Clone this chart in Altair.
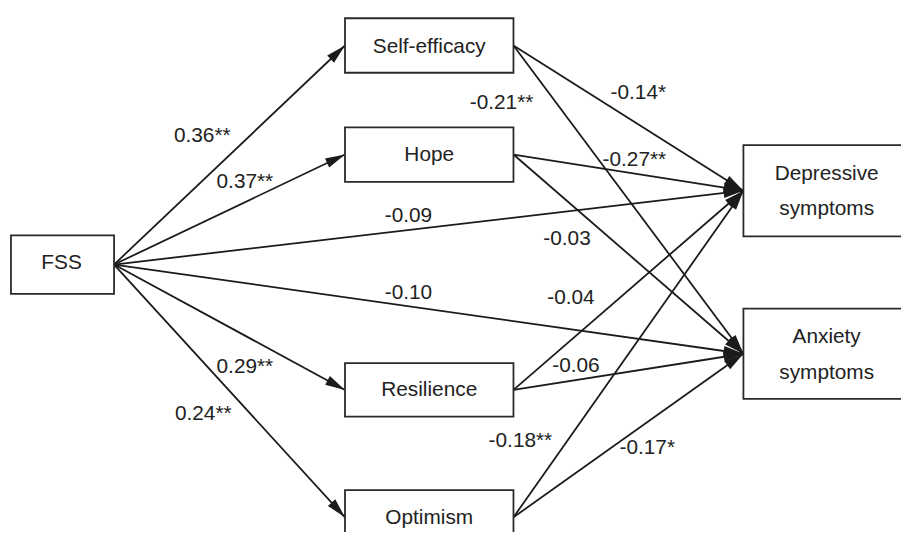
import math
import altair as alt
import pandas as pd

# ---- diagram content ----
node_names = ["FSS", "Self-efficacy", "Hope", "Resilience", "Optimism",
              "Depressive symptoms", "Anxiety symptoms"]
node_lines = [["FSS"], ["Self-efficacy"], ["Hope"], ["Resilience"], ["Optimism"],
              ["Depressive", "symptoms"], ["Anxiety", "symptoms"]]

edge_source = ["FSS", "FSS", "FSS", "FSS", "FSS", "FSS",
               "Self-efficacy", "Self-efficacy", "Hope", "Hope",
               "Resilience", "Resilience", "Optimism", "Optimism"]
edge_target = ["Self-efficacy", "Hope", "Depressive symptoms", "Anxiety symptoms",
               "Resilience", "Optimism",
               "Depressive symptoms", "Anxiety symptoms",
               "Depressive symptoms", "Anxiety symptoms",
               "Depressive symptoms", "Anxiety symptoms",
               "Depressive symptoms", "Anxiety symptoms"]
edge_label = ["0.36**", "0.37**", "-0.09", "-0.10", "0.29**", "0.24**",
              "-0.14*", "-0.21**", "-0.27**", "-0.03",
              "-0.04", "-0.06", "-0.18**", "-0.17*"]

# ---- layout (pixel positions of the picture) ----
box_x1 = [11, 348, 348, 348, 348, 750, 750]
box_x2 = [115, 518, 518, 518, 518, 918, 918]
box_y1 = [235, 16, 126, 364, 492, 144, 309]
box_y2 = [294, 71, 181, 418, 547, 236, 400]
text_x = [62, 433, 433, 433, 433, 834, 834]
text_y = [[263], [45], [154], [391], [520], [173, 209], [338, 374]]
label_x = [204, 247, 412, 412, 247, 205, 644, 506, 640, 572, 576, 581, 525, 653]
label_y = [135, 181, 216, 293, 368, 415, 91, 102, 159, 239, 298, 367, 443, 450]

FONT = "Liberation Sans"
FS = 21
INK = "#1b1b1b"

idx = {n: i for i, n in enumerate(node_names)}

boxes = pd.DataFrame({"x": box_x1, "x2": box_x2, "y": box_y1, "y2": box_y2})

texts = []
for i, lines in enumerate(node_lines):
    for line, ty in zip(lines, text_y[i]):
        texts.append({"x": text_x[i], "y": ty, "t": line})
texts = pd.DataFrame(texts)

segs, heads = [], []
for k, (s, t) in enumerate(zip(edge_source, edge_target)):
    si, ti = idx[s], idx[t]
    sx, sy = box_x2[si], (box_y1[si] + box_y2[si]) / 2
    tx, ty = box_x1[ti], (box_y1[ti] + box_y2[ti]) / 2
    segs.append({"x": sx, "y": sy, "x2": tx, "y2": ty})
    ang = math.degrees(math.atan2(ty - sy, tx - sx)) % 360
    heads.append({"x": tx, "y": ty, "a": ang})
segs = pd.DataFrame(segs)
heads = pd.DataFrame(heads)
labels = pd.DataFrame({"x": label_x, "y": label_y, "t": edge_label})

xs = alt.Scale(domain=[8, 909], range=[0, 901])
ys = alt.Scale(domain=[8, 532], range=[0, 524])

lines_layer = alt.Chart(segs).mark_rule(color=INK, strokeWidth=1.8).encode(
    x=alt.X("x:Q", scale=xs, axis=None), x2="x2:Q",
    y=alt.Y("y:Q", scale=ys, axis=None), y2="y2:Q")

box_layer = alt.Chart(boxes).mark_rect(fill="white", stroke="#2a2a2a", strokeWidth=1.8).encode(
    x=alt.X("x:Q", scale=xs, axis=None), x2="x2:Q",
    y=alt.Y("y:Q", scale=ys, axis=None), y2="y2:Q")

head_layer = alt.Chart(heads).mark_point(
    shape="M0,0 L-2,-0.5 L-2,0.5 Z", size=400, filled=True, fill=INK,
    opacity=1, strokeWidth=0).encode(
    x=alt.X("x:Q", scale=xs, axis=None),
    y=alt.Y("y:Q", scale=ys, axis=None),
    angle=alt.Angle("a:Q", scale=None))

node_text = alt.Chart(texts).mark_text(font=FONT, fontSize=FS, color="#222222",
                                       baseline="middle", align="center").encode(
    x=alt.X("x:Q", scale=xs, axis=None),
    y=alt.Y("y:Q", scale=ys, axis=None), text="t:N")

label_text = alt.Chart(labels).mark_text(font=FONT, fontSize=FS, color="#222222",
                                         baseline="middle", align="center").encode(
    x=alt.X("x:Q", scale=xs, axis=None),
    y=alt.Y("y:Q", scale=ys, axis=None), text="t:N")

chart = alt.layer(lines_layer, box_layer, head_layer, node_text, label_text).properties(
    width=901, height=524, autosize=alt.AutoSizeParams(type="none"), padding=0,
    background="white"
).configure_view(stroke=None)

chart.save("out.html", embed_options={"renderer": "svg", "actions": False})
